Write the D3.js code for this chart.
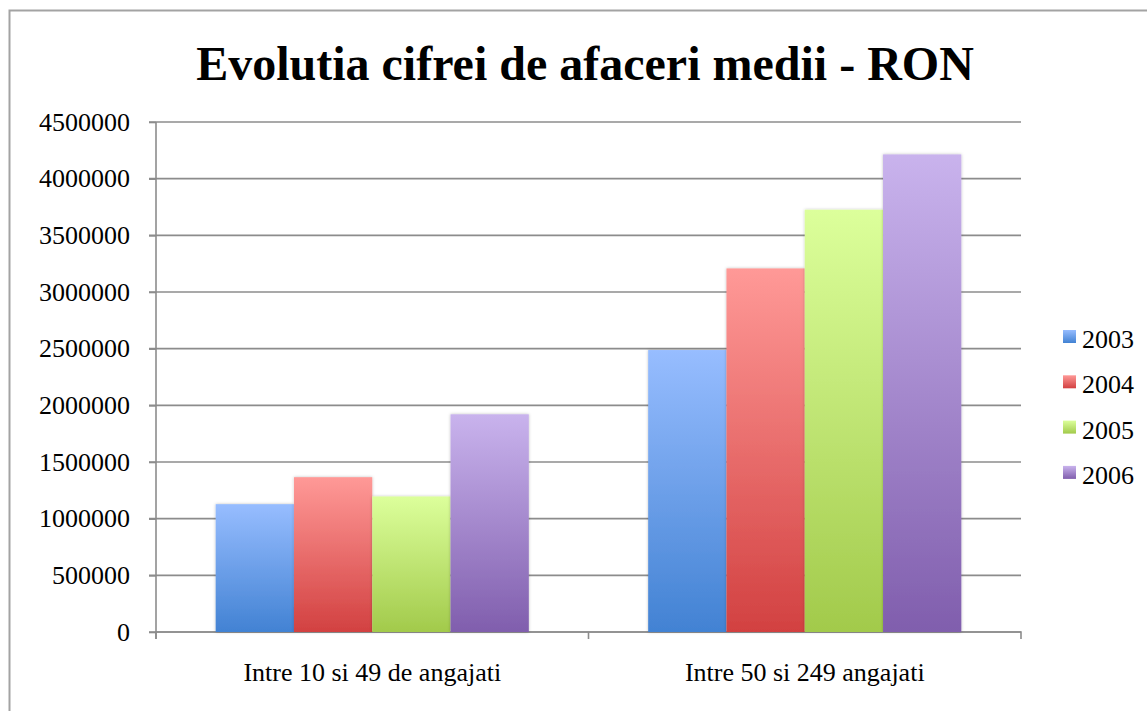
<!DOCTYPE html>
<meta charset="utf-8">
<style>
  body { margin: 0; background: #fff; }
  text { font-family: "Liberation Serif", "Times New Roman", serif; }
</style>
<body>
<script src="https://cdnjs.cloudflare.com/ajax/libs/d3/7.8.5/d3.min.js"></script>
<script>

// categories, series and values
var groups = ["Intre 10 si 49 de angajati", "Intre 50 si 249 angajati"];
var years = ["2003", "2004", "2005", "2006"];
var v2003 = [1128000, 2488000];
var v2004 = [1366000, 3208000];
var v2005 = [1196000, 3726000];
var v2006 = [1921000, 4214000];
var yTicks = [0, 500000, 1000000, 1500000, 2000000, 2500000, 3000000, 3500000, 4000000, 4500000];

var series = [v2003, v2004, v2005, v2006];
var topColors = ["#97bdff", "#ff9997", "#dcff9b", "#c9b3ed"];
var bottomColors = ["#4282d3", "#d24141", "#a2ca4b", "#805ead"];

var W = 1147, H = 711;
var margin = {top: 122, right: 126, bottom: 79, left: 156},
    width = W - margin.left - margin.right,
    height = H - margin.top - margin.bottom;

var svg = d3.select("body").append("svg")
    .attr("width", W)
    .attr("height", H);

// outer frame
svg.append("rect")
    .attr("x", 9.5).attr("y", 10.5)
    .attr("width", W).attr("height", H)
    .attr("fill", "none")
    .attr("stroke", "#a3a3a3")
    .attr("stroke-width", 2);

var defs = svg.append("defs");
years.forEach(function(yr, i) {
  var g = defs.append("linearGradient")
      .attr("id", "grad" + i)
      .attr("x1", 0).attr("y1", 0).attr("x2", 0).attr("y2", 1);
  g.append("stop").attr("offset", "0%").attr("stop-color", topColors[i]);
  g.append("stop").attr("offset", "100%").attr("stop-color", bottomColors[i]);
});
var shadow = defs.append("filter").attr("id", "shadow")
    .attr("x", "-10%").attr("y", "-10%").attr("width", "120%").attr("height", "120%");
shadow.append("feDropShadow")
    .attr("dx", 0).attr("dy", 0).attr("stdDeviation", 1.5)
    .attr("flood-color", "#000").attr("flood-opacity", 0.25);

var chart = svg.append("g")
    .attr("transform", "translate(" + margin.left + "," + margin.top + ")");

var x0 = d3.scaleBand()
    .domain(groups)
    .range([0, width])
    .paddingInner(0.276)
    .paddingOuter(0.138);
var xFull = d3.scaleBand().domain(groups).range([0, width]);
var x1 = d3.scaleBand()
    .domain(years)
    .range([0, x0.bandwidth()]);
var y = d3.scaleLinear()
    .domain([0, 4500000])
    .range([height, 0]);

// grid lines
chart.append("g")
  .selectAll("line")
  .data(yTicks)
  .enter().append("line")
    .attr("x1", -7)
    .attr("x2", width)
    .attr("y1", function(d) { return y(d); })
    .attr("y2", function(d) { return y(d); })
    .attr("stroke", "#8c8c8c")
    .attr("stroke-width", 1.6);

// y axis
var yAxis = chart.append("g")
    .attr("font-family", "Liberation Serif, serif")
    .attr("font-size", 26)
    .call(d3.axisLeft(y).tickValues(yTicks).tickFormat(d3.format("d")).tickSize(7).tickPadding(19));
yAxis.select(".domain").attr("stroke", "#8c8c8c").attr("stroke-width", 1.6)
    .attr("d", "M0,0V" + (height + 7));
yAxis.selectAll(".tick line").attr("stroke", "#8c8c8c").attr("stroke-width", 1.6);
yAxis.selectAll(".tick text")
    .style("font-family", "Liberation Serif, serif")
    .style("font-size", "26px")
    .attr("fill", "#000");

// x axis
var xAxis = chart.append("g")
    .attr("font-family", "Liberation Serif, serif")
    .attr("font-size", 26)
    .attr("transform", "translate(0," + height + ")")
    .call(d3.axisBottom(xFull).tickSize(0).tickPadding(31));
xAxis.select(".domain").attr("stroke", "#8c8c8c").attr("stroke-width", 1.6)
    .attr("d", "M0,7V0H" + width + "V7");
xAxis.append("line")
    .attr("x1", width / 2).attr("x2", width / 2)
    .attr("y1", 0).attr("y2", 7)
    .attr("stroke", "#8c8c8c").attr("stroke-width", 1.6);
xAxis.selectAll(".tick text")
    .style("font-family", "Liberation Serif, serif")
    .style("font-size", "26px")
    .attr("fill", "#000");

// bars
var barData = [];
groups.forEach(function(g, gi) {
  years.forEach(function(yr, si) {
    barData.push({group: g, year: yr, s: si, value: series[si][gi]});
  });
});

chart.append("g")
  .selectAll("rect")
  .data(barData)
  .enter().append("rect")
    .attr("x", function(d) { return x0(d.group) + x1(d.year); })
    .attr("width", x1.bandwidth())
    .attr("y", function(d) { return y(d.value); })
    .attr("height", function(d) { return height - y(d.value); })
    .attr("fill", function(d) { return "url(#grad" + d.s + ")"; })
    .attr("filter", "url(#shadow)");

// title
svg.append("text")
    .attr("x", 585)
    .attr("y", 80)
    .attr("text-anchor", "middle")
    .style("font-size", "48px")
    .style("font-weight", "bold")
    .attr("fill", "#000")
    .text("Evolutia cifrei de afaceri medii - RON");

// legend
var legend = svg.append("g")
    .attr("transform", "translate(1063,330)");
var item = legend.selectAll("g")
    .data(years)
    .enter().append("g")
    .attr("transform", function(d, i) { return "translate(0," + (i * 45.3) + ")"; });
item.append("rect")
    .attr("width", 13).attr("height", 13)
    .attr("fill", function(d, i) { return "url(#grad" + i + ")"; });
item.append("text")
    .attr("x", 19)
    .attr("y", 18)
    .style("font-size", "26px")
    .attr("fill", "#000")
    .text(function(d) { return d; });

</script>
</body>
